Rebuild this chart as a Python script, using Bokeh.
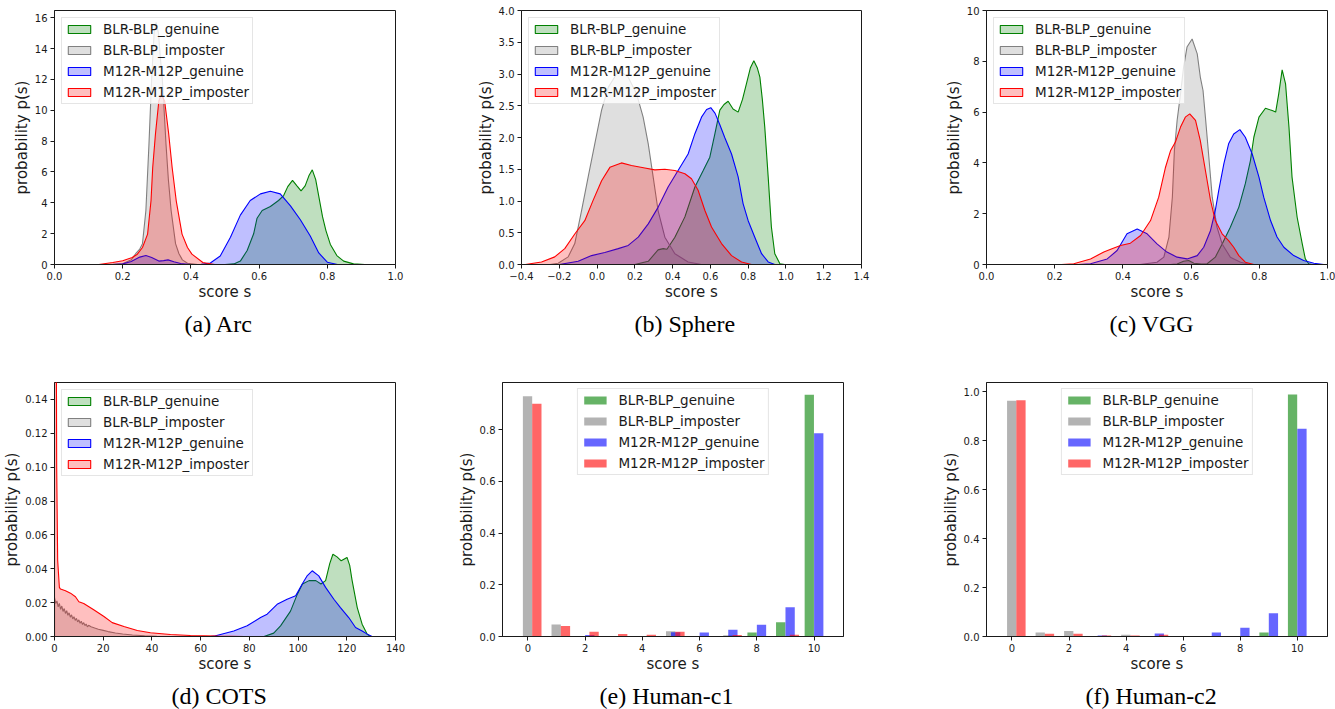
from bokeh.plotting import figure
from bokeh.models import (Legend, LegendItem, Title, FixedTicker,
                          CustomJSTickFormatter, Range1d)
from bokeh.layouts import column, row
from bokeh.embed import file_html
from bokeh.resources import INLINE

# ---------------------------------------------------------------- data
SERIES = ["BLR-BLP_genuine", "BLR-BLP_imposter",
          "M12R-M12P_genuine", "M12R-M12P_imposter"]

# (a) Arc : density curves (score, density)
arc_gen_blr_x = [0.50, 0.526, 0.545, 0.565, 0.584, 0.594, 0.609, 0.633, 0.657, 0.672, 0.684, 0.698, 0.711,
                 0.723, 0.735, 0.746, 0.756, 0.766, 0.776, 0.786, 0.796, 0.809, 0.828, 0.848, 0.877, 0.91]
arc_gen_blr_y = [0.0, 0.04, 0.22, 0.91, 1.99, 3.0, 3.5, 3.76, 4.15, 4.47, 5.05, 5.45, 5.1,
                 4.78, 5.1, 5.75, 6.14, 5.5, 4.3, 3.1, 2.2, 1.3, 0.58, 0.22, 0.04, 0.0]
arc_imp_blr_x = [0.16, 0.2, 0.225, 0.238, 0.25, 0.258, 0.268, 0.277, 0.285, 0.292, 0.298, 0.305, 0.31,
                 0.316, 0.322, 0.327, 0.334, 0.342, 0.355, 0.365, 0.375, 0.39, 0.42]
arc_imp_blr_y = [0.0, 0.05, 0.3, 0.7, 1.0, 1.35, 3.5, 7.8, 12.1, 15.0, 15.7, 15.0, 13.5,
                 12.1, 9.8, 7.8, 5.5, 3.5, 1.35, 0.7, 0.3, 0.08, 0.0]
arc_gen_m12_x = [0.17, 0.2, 0.225, 0.25, 0.268, 0.285, 0.306, 0.32, 0.333, 0.35, 0.37, 0.40, 0.43, 0.457,
                 0.486, 0.516, 0.545, 0.574, 0.604, 0.633, 0.662, 0.692, 0.721, 0.75, 0.775, 0.8, 0.83]
arc_gen_m12_y = [0.0, 0.04, 0.2, 0.48, 0.58, 0.45, 0.22, 0.25, 0.3, 0.18, 0.06, 0.0, 0.02, 0.1,
                 0.55, 1.77, 3.2, 4.15, 4.58, 4.75, 4.58, 3.8, 2.9, 1.85, 0.75, 0.15, 0.0]
arc_imp_m12_x = [0.13, 0.171, 0.2, 0.228, 0.243, 0.258, 0.273, 0.283, 0.288, 0.296, 0.306, 0.313, 0.323,
                 0.335, 0.345, 0.357, 0.374, 0.39, 0.403, 0.435, 0.47]
arc_imp_m12_y = [0.0, 0.13, 0.24, 0.45, 0.67, 1.1, 1.97, 4.13, 6.29, 8.45, 10.6, 11.0, 10.6,
                 8.45, 6.29, 4.13, 1.97, 1.1, 0.67, 0.13, 0.0]

# (b) Sphere
sph_gen_blr_x = [0.2, 0.271, 0.323, 0.35, 0.37, 0.412, 0.465, 0.518, 0.562, 0.597, 0.624, 0.65, 0.672, 0.694,
                 0.72, 0.747, 0.77, 0.791, 0.812, 0.83, 0.848, 0.862, 0.875, 0.888, 0.906, 0.923, 0.941,
                 0.968, 0.994]
sph_gen_blr_y = [0.0, 0.05, 0.23, 0.25, 0.24, 0.43, 0.75, 1.22, 1.48, 1.69, 2.06, 2.43, 2.52, 2.57,
                 2.45, 2.4, 2.6, 2.85, 3.1, 3.21, 3.1, 2.95, 2.6, 2.16, 1.38, 0.59, 0.17, 0.01, 0.0]
sph_imp_blr_x = [-0.25, -0.206, -0.153, -0.118, -0.082, -0.047, -0.012, 0.024, 0.059, 0.103, 0.129, 0.165,
                 0.209, 0.244, 0.271, 0.297, 0.323, 0.359, 0.412, 0.482, 0.553]
sph_imp_blr_y = [0.0, 0.02, 0.12, 0.33, 0.85, 1.38, 1.9, 2.43, 2.79, 3.0, 3.03, 2.95,
                 2.69, 2.32, 1.9, 1.38, 0.85, 0.43, 0.17, 0.04, 0.0]
sph_gen_m12_x = [-0.2, -0.1, -0.029, 0.041, 0.112, 0.165, 0.218, 0.271, 0.323, 0.376, 0.429, 0.482, 0.518,
                 0.553, 0.58, 0.602, 0.625, 0.65, 0.676, 0.712, 0.747, 0.773, 0.8, 0.835, 0.871, 0.906, 0.941]
sph_gen_m12_y = [0.0, 0.05, 0.14, 0.19, 0.25, 0.3, 0.43, 0.64, 0.9, 1.22, 1.48, 1.74, 2.06,
                 2.32, 2.44, 2.47, 2.38, 2.2, 2.0, 1.74, 1.38, 0.96, 0.69, 0.43, 0.17, 0.04, 0.0]
sph_imp_m12_x = [-0.38, -0.294, -0.224, -0.171, -0.118, -0.065, -0.021, 0.024, 0.068, 0.129, 0.182, 0.253,
                 0.306, 0.359, 0.412, 0.465, 0.5, 0.535, 0.571, 0.606, 0.659, 0.712, 0.765, 0.818]
sph_imp_m12_y = [0.0, 0.04, 0.12, 0.25, 0.48, 0.69, 1.01, 1.32, 1.53, 1.6, 1.56, 1.52,
                 1.49, 1.5, 1.48, 1.43, 1.35, 1.17, 0.85, 0.59, 0.33, 0.14, 0.04, 0.0]

# (c) VGG
vgg_gen_blr_x = [0.54, 0.559, 0.578, 0.593, 0.608, 0.63, 0.647, 0.671, 0.691, 0.715, 0.74, 0.759, 0.774,
                 0.784, 0.799, 0.818, 0.838, 0.848, 0.857, 0.867, 0.877, 0.887, 0.896, 0.911, 0.926, 0.935,
                 0.945, 0.955]
vgg_gen_blr_y = [0.0, 0.02, 0.13, 0.16, 0.05, 0.02, 0.03, 0.29, 0.81, 1.47, 2.26, 3.18, 4.09,
                 5.01, 5.8, 6.15, 6.06, 6.0, 6.72, 7.66, 7.11, 5.41, 3.44, 1.86, 0.81, 0.22, 0.03, 0.0]
vgg_imp_blr_x = [0.45, 0.5, 0.52, 0.535, 0.545, 0.551, 0.559, 0.569, 0.578, 0.588, 0.603, 0.618, 0.627,
                 0.635, 0.642, 0.652, 0.662, 0.676, 0.691, 0.715, 0.745, 0.774]
vgg_imp_blr_y = [0.0, 0.09, 0.29, 1.08, 2.65, 4.49, 5.67, 6.72, 7.77, 8.56, 8.88, 8.29, 7.38,
                 6.85, 5.8, 4.23, 2.65, 1.47, 0.81, 0.29, 0.09, 0.0]
vgg_gen_m12_x = [0.27, 0.305, 0.354, 0.383, 0.412, 0.442, 0.471, 0.5, 0.529, 0.559, 0.588, 0.618, 0.637,
                 0.657, 0.671, 0.681, 0.696, 0.71, 0.725, 0.743, 0.759, 0.779, 0.799, 0.813, 0.833, 0.852,
                 0.872, 0.901, 0.93, 0.96, 0.989]
vgg_gen_m12_y = [0.0, 0.03, 0.22, 0.55, 1.21, 1.4, 1.21, 0.81, 0.49, 0.29, 0.22, 0.35, 0.68,
                 1.34, 2.13, 2.91, 3.96, 4.75, 5.14, 5.31, 5.01, 4.36, 3.44, 2.65, 1.73, 1.08,
                 0.68, 0.35, 0.16, 0.05, 0.0]
vgg_imp_m12_x = [0.22, 0.256, 0.305, 0.344, 0.368, 0.393, 0.422, 0.452, 0.481, 0.505, 0.525, 0.54, 0.554,
                 0.569, 0.583, 0.596, 0.613, 0.627, 0.642, 0.657, 0.671, 0.691, 0.71, 0.725, 0.74, 0.759,
                 0.784]
vgg_imp_m12_y = [0.0, 0.03, 0.22, 0.49, 0.62, 0.75, 0.84, 1.14, 1.73, 2.65, 3.83, 4.49, 4.82,
                 5.41, 5.8, 5.93, 5.67, 4.88, 3.7, 2.52, 1.73, 1.21, 0.94, 0.68, 0.35, 0.09, 0.0]

# (d) COTS
cots_gen_blr_x = [86, 90, 92.8, 96.9, 99.7, 101.8, 104.5, 107.3, 109.4, 111.3, 113.0, 114.3, 116.0, 117.7,
                  120.1, 121.2, 122.2, 124.3, 126.3, 128.4, 129.7]
cots_gen_blr_y = [0.0, 0.002, 0.0063, 0.015, 0.025, 0.031, 0.033, 0.033, 0.031, 0.033, 0.043, 0.0486,
                  0.047, 0.0447, 0.0467, 0.042, 0.033, 0.0171, 0.0073, 0.0014, 0.0]
cots_imp_blr_x = [0.0, 0.5, 1.0, 1.5, 2.0, 2.5, 3.0, 3.5, 4.0, 4.5, 5.0, 5.5, 6.0, 6.5, 7.0, 7.5, 8.0,
                  8.5, 9.0, 9.5, 10.0, 10.5, 11.0, 11.5, 12.0, 12.5, 13.0, 13.5, 14.0, 15.0, 16.5, 18.0,
                  20.0, 22.0, 25.0, 28.0, 32.0, 37.0, 42.0, 46.0]
cots_imp_blr_y = [0.023, 0.0195, 0.021, 0.0175, 0.0195, 0.016, 0.018, 0.0148, 0.0165, 0.0136, 0.0152,
                  0.0125, 0.014, 0.0114, 0.0128, 0.0104, 0.0117, 0.0095, 0.0107, 0.0086, 0.0098, 0.0078,
                  0.009, 0.0071, 0.0082, 0.0064, 0.0074, 0.0057, 0.0066, 0.0058, 0.005, 0.0043, 0.0036,
                  0.0029, 0.0021, 0.0015, 0.0009, 0.0004, 0.0001, 0.0]
cots_gen_m12_x = [64, 65.4, 73.6, 79.1, 84.6, 87.3, 91.4, 95.5, 99.0, 101.7, 103.8, 105.8, 108.5, 111.3,
                  114.7, 117.4, 120.8, 123.6, 126.3, 128.4, 130.4]
cots_gen_m12_y = [0.0, 0.0002, 0.0033, 0.0063, 0.0112, 0.0132, 0.019, 0.022, 0.024, 0.031, 0.036, 0.0388,
                  0.0358, 0.029, 0.022, 0.0171, 0.0112, 0.0053, 0.0033, 0.0014, 0.0]
cots_imp_m12_x = [0.0, 0.5, 0.9, 1.3, 2.0, 2.46, 4.5, 6.57, 8.6, 10.0, 12.0, 16.1, 20.3, 23.7, 28.5,
                  34.0, 39.4, 47.6, 55.8, 66.8, 78.0]
cots_imp_m12_y = [0.9, 0.3, 0.1, 0.045, 0.029, 0.028, 0.027, 0.0256, 0.0235, 0.0205, 0.0195, 0.0158,
                  0.0118, 0.0082, 0.0059, 0.0035, 0.0022, 0.0012, 0.0006, 0.0002, 0.0]

# (e) Human-c1 and (f) Human-c2 : histogram of discrete scores 0..10
scores = [0, 1, 2, 3, 4, 5, 6, 7, 8, 9, 10]
hc1_gen_blr = [0, 0, 0, 0, 0, 0, 0, 0, 0.015, 0.055, 0.935]
hc1_imp_blr = [0.929, 0.046, 0, 0, 0, 0.02, 0, 0.005, 0, 0, 0]
hc1_gen_m12 = [0, 0.002, 0.006, 0, 0, 0.016, 0.015, 0.026, 0.045, 0.113, 0.786]
hc1_imp_m12 = [0.900, 0.041, 0.018, 0.010, 0.007, 0.018, 0, 0.006, 0, 0.007, 0]

hc2_gen_blr = [0, 0, 0, 0, 0, 0, 0, 0, 0, 0.016, 0.988]
hc2_imp_blr = [0.962, 0.016, 0.022, 0, 0.007, 0, 0, 0, 0, 0, 0]
hc2_gen_m12 = [0, 0, 0, 0.004, 0, 0.012, 0, 0.016, 0.036, 0.095, 0.848]
hc2_imp_m12 = [0.965, 0.011, 0.011, 0.004, 0.004, 0.007, 0, 0, 0, 0, 0]

# ---------------------------------------------------------------- style
COLORS = ["#008000", "#808080", "#0000ff", "#ff0000"]
BAR_OFFSETS = [-0.165, -0.01, 0.165, 0.315]
BAR_WIDTH = 0.325
INK = "#1a1a1a"
SANS = "DejaVu Sans"
SERIF = "Liberation Serif"


def base_figure(x_rng, y_rng, xticks, yticks, xdec, ydec, left, right, top, bottom, fw=341):
    p = figure(frame_width=fw, frame_height=254,
               min_border_left=left, min_border_right=right,
               min_border_top=top, min_border_bottom=bottom,
               x_range=Range1d(*x_rng), y_range=Range1d(*y_rng),
               output_backend="svg", toolbar_location=None,
               background_fill_color="white", border_fill_color="white")
    p.xgrid.visible = False
    p.ygrid.visible = False
    p.outline_line_color = INK
    p.outline_line_width = 1
    p.outline_line_alpha = 1
    for ax, ticks, dec in ((p.xaxis[0], xticks, xdec), (p.yaxis[0], yticks, ydec)):
        ax.ticker = FixedTicker(ticks=ticks)
        ax.formatter = CustomJSTickFormatter(
            code="return tick.toFixed(%d).replace('-', '\\u2212');" % dec)
        ax.axis_line_color = INK
        ax.major_tick_line_color = INK
        ax.major_tick_out = 4
        ax.major_tick_in = 0
        ax.minor_tick_line_color = None
        ax.major_label_text_font = SANS
        ax.major_label_text_font_size = "10px"
        ax.major_label_text_color = INK
        ax.major_label_standoff = 3
        ax.axis_label_text_font = SANS
        ax.axis_label_text_font_size = "15px"
        ax.axis_label_text_font_style = "normal"
        ax.axis_label_text_color = INK
    p.xaxis.axis_label = "score s"
    p.yaxis.axis_label = "probability p(s)"
    p.xaxis.axis_label_standoff = 0
    p.yaxis.axis_label_standoff = 1
    return p


def add_caption(p, text, shift):
    # sub-figure caption, left-aligned with a shift that centres it under the panel
    cap = Title(text=text, align="left", offset=shift, text_font=SERIF, text_font_size="24px",
                text_font_style="normal", text_color="black", standoff=11)
    p.add_layout(cap, "below")


def style_legend(legend, location, margin):
    legend.location = location
    legend.margin = margin
    legend.padding = 3
    legend.spacing = 5
    legend.glyph_width = 28
    legend.glyph_height = 10
    legend.label_height = 16
    legend.label_standoff = 10
    legend.label_text_font = SANS
    legend.label_text_font_size = "13.5px"
    legend.label_text_color = INK
    legend.border_line_color = "#cccccc"
    legend.border_line_width = 1
    legend.background_fill_color = "white"
    legend.background_fill_alpha = 0.8


def density_panel(curves, caption, shift, **kw):
    p = base_figure(**kw)
    items = []
    for (xs, ys), color, name in zip(curves, COLORS, SERIES):
        # closed outline down to the baseline so the shaded area sits on y = 0
        px = [xs[0]] + list(xs) + [xs[-1]]
        py = [0.0] + list(ys) + [0.0]
        r = p.patch(px, py, fill_color=color, fill_alpha=0.25,
                    line_color=color, line_width=1.1)
        items.append(LegendItem(label=name, renderers=[r]))
    legend = Legend(items=items)
    style_legend(legend, "top_left", 7)
    p.add_layout(legend)
    add_caption(p, caption, shift)
    return p


def hist_panel(series, caption, shift, **kw):
    p = base_figure(**kw)
    items = []
    for vals, color, name, off in zip(series, COLORS, SERIES, BAR_OFFSETS):
        r = p.vbar(x=[s + off for s in scores], top=vals, width=BAR_WIDTH, bottom=0,
                   fill_color=color, fill_alpha=0.6, line_color=None)
        items.append(LegendItem(label=name, renderers=[r]))
    legend = Legend(items=items)
    style_legend(legend, "top_center", 6)
    p.add_layout(legend)
    add_caption(p, caption, shift)
    return p


unit_ticks = [0.0, 0.2, 0.4, 0.6, 0.8, 1.0]

pa = density_panel(
    [(arc_gen_blr_x, arc_gen_blr_y), (arc_imp_blr_x, arc_imp_blr_y),
     (arc_gen_m12_x, arc_gen_m12_y), (arc_imp_m12_x, arc_imp_m12_y)],
    "(a) Arc", 130,
    x_rng=(0, 1), y_rng=(0, 16.47), xticks=unit_ticks,
    yticks=[0, 2, 4, 6, 8, 10, 12, 14, 16], xdec=1, ydec=0,
    left=54, right=50, top=10, bottom=76)

pb = density_panel(
    [(sph_gen_blr_x, sph_gen_blr_y), (sph_imp_blr_x, sph_imp_blr_y),
     (sph_gen_m12_x, sph_gen_m12_y), (sph_imp_m12_x, sph_imp_m12_y)],
    "(b) Sphere", 113,
    x_rng=(-0.4, 1.4), y_rng=(0, 4.0),
    xticks=[-0.4, -0.2, 0.0, 0.2, 0.4, 0.6, 0.8, 1.0, 1.2, 1.4],
    yticks=[0.0, 0.5, 1.0, 1.5, 2.0, 2.5, 3.0, 3.5, 4.0], xdec=1, ydec=1,
    left=76, right=29, top=10, bottom=76, fw=340)

pc = density_panel(
    [(vgg_gen_blr_x, vgg_gen_blr_y), (vgg_imp_blr_x, vgg_imp_blr_y),
     (vgg_gen_m12_x, vgg_gen_m12_y), (vgg_imp_m12_x, vgg_imp_m12_y)],
    "(c) VGG", 123,
    x_rng=(0, 1), y_rng=(0, 10), xticks=unit_ticks,
    yticks=[0, 2, 4, 6, 8, 10], xdec=1, ydec=0,
    left=96, right=8, top=10, bottom=76)

pd = density_panel(
    [(cots_gen_blr_x, cots_gen_blr_y), (cots_imp_blr_x, cots_imp_blr_y),
     (cots_gen_m12_x, cots_gen_m12_y), (cots_imp_m12_x, cots_imp_m12_y)],
    "(d) COTS", 117,
    x_rng=(0, 140), y_rng=(0, 0.15),
    xticks=[0, 20, 40, 60, 80, 100, 120, 140],
    yticks=[0.0, 0.02, 0.04, 0.06, 0.08, 0.10, 0.12, 0.14], xdec=0, ydec=2,
    left=54, right=50, top=40, bottom=73)

pe = hist_panel(
    [hc1_gen_blr, hc1_imp_blr, hc1_gen_m12, hc1_imp_m12], "(e) Human-c1", 97,
    x_rng=(-0.885, 11.03), y_rng=(0, 0.982), xticks=[0, 2, 4, 6, 8, 10],
    yticks=[0.0, 0.2, 0.4, 0.6, 0.8], xdec=0, ydec=1,
    left=57, right=47, top=40, bottom=73)

pf = hist_panel(
    [hc2_gen_blr, hc2_imp_blr, hc2_gen_m12, hc2_imp_m12], "(f) Human-c2", 99,
    x_rng=(-0.893, 11.06), y_rng=(0, 1.037), xticks=[0, 2, 4, 6, 8, 10],
    yticks=[0.0, 0.2, 0.4, 0.6, 0.8, 1.0], xdec=0, ydec=1,
    left=96, right=8, top=40, bottom=73)

page = column(row(pa, pb, pc, spacing=0), row(pd, pe, pf, spacing=0), spacing=0)

open("out.html", "w").write(file_html(page, INLINE))
